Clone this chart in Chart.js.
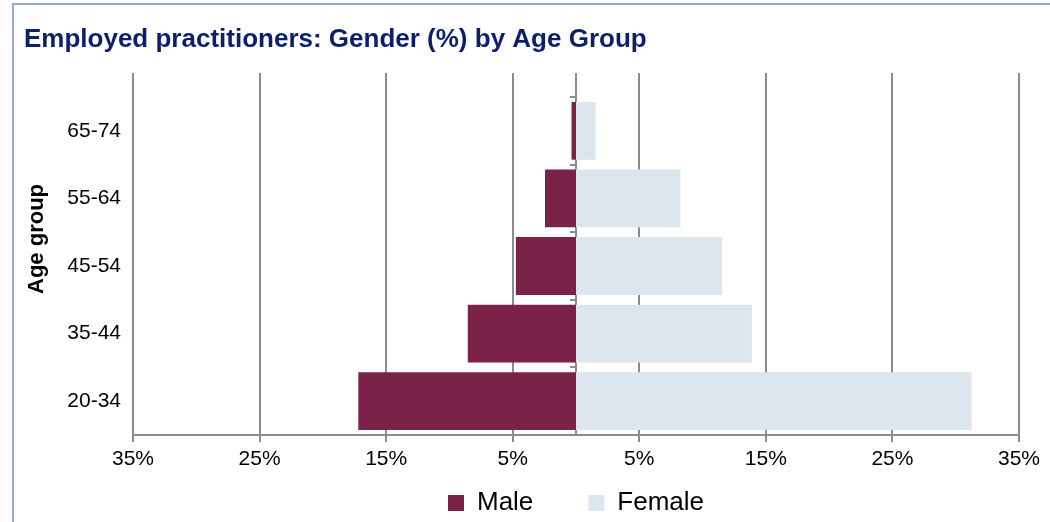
<!DOCTYPE html>
<html lang="en">
<head>
<meta charset="UTF-8">
<title>Employed practitioners: Gender (%) by Age Group</title>
<script src="https://cdn.jsdelivr.net/npm/chart.js"></script>
<style>
    html, body { margin: 0; padding: 0; background: #fff; overflow: hidden; }
    #frame { position: absolute; left: 12px; top: 3px; width: 1100px; height: 600px; border: 2px solid #9aa8cc; box-sizing: border-box; }
    #wrap { position: absolute; left: 0; top: 0; width: 1050px; height: 522px; }
</style>
</head>
<body>
<div id="frame"></div>
<div id="wrap"><canvas id="pyramid" width="1050" height="522"></canvas></div>
<script>
// values (percent of employed practitioners)
const ageGroups = ['20-34', '35-44', '45-54', '55-64', '65-74'];
const maleShare = [-17.2, -8.55, -4.75, -2.45, -0.35];
const femaleShare = [31.25, 13.9, 11.55, 8.25, 1.55];
const xTickValues = [-35, -25, -15, -5, 5, 15, 25, 35];

const fontFamily = "'Liberation Sans', Arial, sans-serif";
const gridGrey = '#8c8c8c';

// y title sits a bit above the middle of the plot, like the original
const axisTitlePlugin = {
    id: 'axisTitle',
    afterDraw(chart) {
        const ctx = chart.ctx;
        const area = chart.chartArea;
        ctx.save();
        ctx.font = 'bold 22px ' + fontFamily;
        ctx.fillStyle = '#000';
        ctx.textAlign = 'center';
        ctx.textBaseline = 'middle';
        ctx.translate(chart.scales.y.left + 13, area.top + area.height * 0.42);
        ctx.rotate(-Math.PI / 2);
        ctx.fillText('Age group', 0, 0);
        ctx.restore();
    }
};

const ctx = document.getElementById('pyramid').getContext('2d');
new Chart(ctx, {
    type: 'bar',
    data: {
        labels: ageGroups,
        datasets: [
            {
                label: 'Male',
                data: maleShare,
                backgroundColor: '#7b2249',
                barPercentage: 0.855,
                categoryPercentage: 1
            },
            {
                label: 'Female',
                data: femaleShare,
                backgroundColor: '#dde5ed',
                barPercentage: 0.855,
                categoryPercentage: 1
            }
        ]
    },
    options: {
        indexAxis: 'y',
        responsive: false,
        animation: false,
        devicePixelRatio: 1,
        layout: { padding: { top: 14, left: 24, right: 31, bottom: -4 } },
        scales: {
            x: {
                type: 'linear',
                // pinned to the bottom edge of the category axis so it takes no layout room
                position: { y: -0.5 },
                min: -35,
                max: 35,
                stacked: true,
                afterBuildTicks: scale => {
                    scale.ticks = xTickValues.map(v => ({ value: v }));
                },
                grid: { color: gridGrey, lineWidth: 2, tickLength: 6 },
                border: { color: gridGrey, width: 2 },
                ticks: {
                    padding: 6,
                    color: '#000',
                    font: { family: fontFamily, size: 21 },
                    callback: v => Math.abs(v) + '%'
                }
            },
            x2: {
                type: 'linear',
                axis: 'x',
                position: 'top',
                min: -35,
                max: 35,
                afterBuildTicks: scale => {
                    scale.ticks = xTickValues.concat([0]).sort((a, b) => a - b).map(v => ({ value: v }));
                },
                grid: { drawOnChartArea: false, color: gridGrey, lineWidth: 2, tickLength: 24 },
                border: { display: false },
                ticks: { display: false }
            },
            y: {
                stacked: true,
                reverse: true,
                afterFit: scale => { scale.width = 109; },
                grid: { display: false, drawTicks: false },
                border: { display: false },
                ticks: {
                    padding: 12,
                    color: '#000',
                    font: { family: fontFamily, size: 21 }
                }
            },
            y2: {
                type: 'category',
                axis: 'y',
                labels: ageGroups,
                reverse: true,
                offset: true,
                position: { x: 0 },
                z: 1,
                grid: { offset: true, drawOnChartArea: false, color: gridGrey, lineWidth: 2, tickLength: 5 },
                border: { color: gridGrey, width: 2 },
                ticks: { display: false }
            }
        },
        plugins: {
            title: {
                display: true,
                text: 'Employed practitioners: Gender (%) by Age Group',
                align: 'start',
                color: '#0c1f6e',
                font: { family: fontFamily, size: 26, weight: 'bold' },
                padding: { top: 10.4, bottom: 17.4 }
            },
            legend: {
                position: 'bottom',
                fullSize: false,
                labels: {
                    color: '#000',
                    font: { family: fontFamily, size: 26 },
                    boxWidth: 16,
                    boxHeight: 16,
                    padding: 55
                }
            },
            tooltip: { enabled: false }
        }
    },
    plugins: [axisTitlePlugin]
});
</script>
</body>
</html>
